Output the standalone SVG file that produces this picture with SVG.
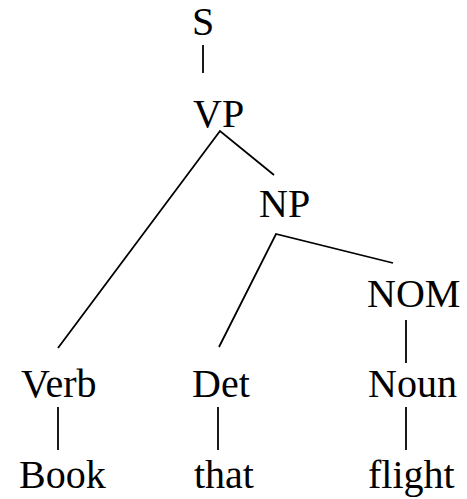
<svg xmlns="http://www.w3.org/2000/svg" width="467" height="499" viewBox="0 0 467 499">
  <rect width="467" height="499" fill="#fff"/>
  <!-- tree branches -->
  <g id="edges" stroke="#000" stroke-width="1.8" fill="none">
    <line x1="203" y1="45" x2="203" y2="73"/>
    <polyline points="58,348 220,131 274,175"/>
    <polyline points="219,347 276,234 393,263"/>
    <line x1="406" y1="320" x2="406" y2="363"/>
    <line x1="58" y1="407" x2="58" y2="450"/>
    <line x1="218" y1="407" x2="218" y2="450"/>
    <line x1="406" y1="407" x2="406" y2="450"/>
  </g>
  <!-- node labels -->
  <g id="node-S"><text x="192" y="35" font-size="40" font-family="serif">S</text></g>
  <g id="node-VP"><text x="193" y="127" font-size="40" font-family="serif">VP</text></g>
  <g id="node-NP"><text x="259" y="217" font-size="40" font-family="serif">NP</text></g>
  <g id="node-NOM"><text x="367" y="307" font-size="40" font-family="serif">NOM</text></g>
  <g id="node-Verb"><text x="21" y="397" font-size="40" font-family="serif">Verb</text></g>
  <g id="node-Det"><text x="192" y="397" font-size="40" font-family="serif">Det</text></g>
  <g id="node-Noun"><text x="368" y="397" font-size="40" font-family="serif">Noun</text></g>
  <g id="node-Book"><text x="19" y="488" font-size="40" font-family="serif">Book</text></g>
  <g id="node-that"><text x="194" y="488" font-size="40" font-family="serif">that</text></g>
  <g id="node-flight"><text x="368" y="488" font-size="40" font-family="serif">flight</text></g>
</svg>
